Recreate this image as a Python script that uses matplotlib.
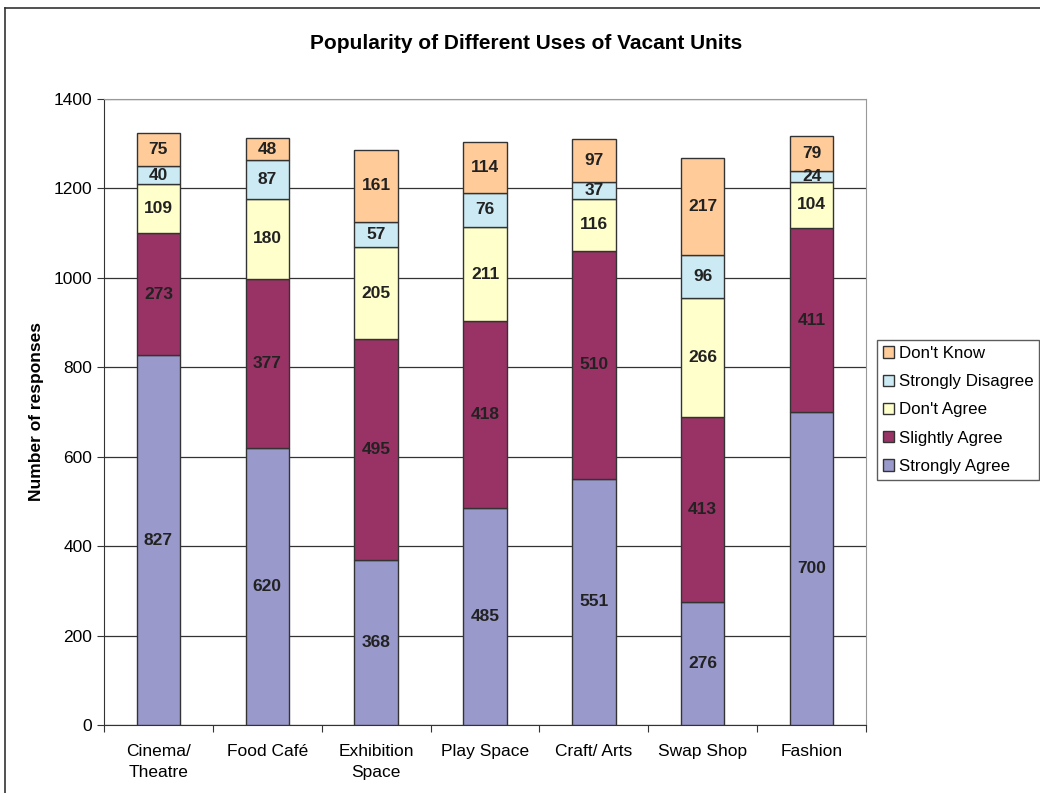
import matplotlib.pyplot as plt
from matplotlib.lines import Line2D
import numpy as np

categories = ["Cinema/\nTheatre", "Food Café", "Exhibition\nSpace", "Play Space",
              "Craft/ Arts", "Swap Shop", "Fashion"]
strongly_agree = [827, 620, 368, 485, 551, 276, 700]
slightly_agree = [273, 377, 495, 418, 510, 413, 411]
dont_agree = [109, 180, 205, 211, 116, 266, 104]
strongly_disagree = [40, 87, 57, 76, 37, 96, 24]
dont_know = [75, 48, 161, 114, 97, 217, 79]

series = [
    ("Strongly Agree", strongly_agree, "#9999cc"),
    ("Slightly Agree", slightly_agree, "#993366"),
    ("Don't Agree", dont_agree, "#ffffcc"),
    ("Strongly Disagree", strongly_disagree, "#cceaf4"),
    ("Don't Know", dont_know, "#ffcc99"),
]

plt.rcParams['font.family'] = ['Liberation Sans', 'DejaVu Sans']

fig = plt.figure(figsize=(10.4, 7.93), dpi=100)
ax = fig.add_axes([0.1, 0.0858, 0.7327, 0.7894])

x = np.arange(len(categories))
bottom = np.zeros(len(categories))
handles = []
for name, vals, col in series:
    bars = ax.bar(x, vals, 0.4, bottom=bottom, color=col, edgecolor="#333333",
                  linewidth=1.0, label=name, zorder=3)
    for xi, b, v in zip(x, bottom, vals):
        ax.text(xi, b + v / 2, str(v), ha="center", va="center", fontsize=12.5,
                fontweight="bold", color="#222222", zorder=4)
    bottom += np.array(vals)
    handles.append(bars)

ax.set_xlim(-0.5, len(categories) - 0.5)
ax.set_ylim(0, 1400)
ax.set_yticks(range(0, 1401, 200))
ax.set_xticks(np.arange(len(categories) + 1) - 0.5, minor=False)
ax.set_xticklabels([])
ax.set_xticks(x, minor=True)
ax.set_xticklabels(categories, minor=True, fontsize=12.5, linespacing=1.5)
ax.tick_params(axis="x", which="minor", length=0, pad=14)
ax.tick_params(axis="x", which="major", length=5, direction="out", color="#333333")
ax.tick_params(axis="y", length=5, direction="out", labelsize=12.5, color="#333333")
ax.yaxis.grid(True, color="#333333", linewidth=0.9, zorder=0)

for side in ["top", "right"]:
    ax.spines[side].set_color("#999999")
for side in ["left", "bottom"]:
    ax.spines[side].set_color("#333333")

ax.set_ylabel("Number of responses", fontsize=12.5, fontweight="bold", labelpad=7)
fig.text(0.506, 0.945, "Popularity of Different Uses of Vacant Units", ha="center",
         va="center", fontsize=15, fontweight="bold")

leg = fig.legend(handles[::-1], [s[0] for s in series][::-1], loc="center left",
                 bbox_to_anchor=(0.843, 0.483), fontsize=12.2, frameon=True,
                 fancybox=False, edgecolor="#333333", handlelength=0.65,
                 handleheight=0.65, handletextpad=0.3, borderpad=0.35,
                 borderaxespad=0, labelspacing=0.78)
leg.get_frame().set_linewidth(1.0)

# outer chart border (left and top visible)
fig.add_artist(Line2D([0.0048, 0.0048], [0.99, -0.1], transform=fig.transFigure,
                      color="#333333", linewidth=1.2))
fig.add_artist(Line2D([0.0048, 1.1], [0.99, 0.99], transform=fig.transFigure,
                      color="#333333", linewidth=1.2))

fig.savefig("out.png", dpi=100)
